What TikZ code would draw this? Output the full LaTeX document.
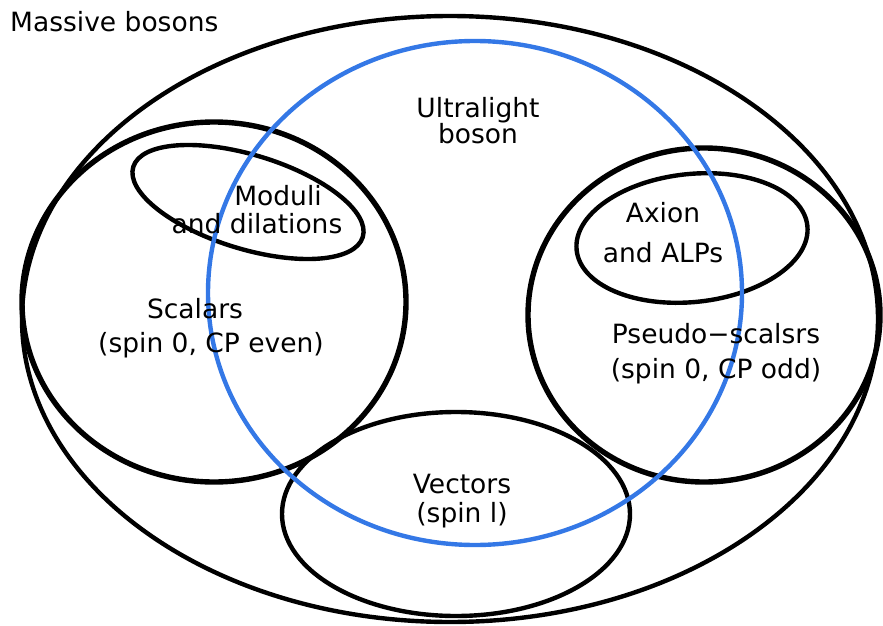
\documentclass[tikz,border=0pt]{standalone}
\usepackage{fontspec}
\setmainfont{DejaVu Sans}
\usepackage{xcolor}
\usepackage{tikz}

\definecolor{ulblue}{RGB}{52,120,230}

\begin{document}
\begin{tikzpicture}[x=1pt, y=-1pt]
        % Styles
        \tikzset{
            setline/.style={draw=black, line width=4.4pt},
            bigset/.style={draw=black, line width=5.4pt},
            ulset/.style={draw=ulblue, line width=4.4pt},
            lbl/.style={inner sep=0pt, anchor=base, align=center, font=\fontsize{26.5}{#1}\selectfont}
        }
        \useasboundingbox (0,0) rectangle (883,626);

        % Sets
        \draw [setline] (450,319) ellipse [x radius=428, y radius=303];
        \draw [bigset] (214,302) ellipse [x radius=192, y radius=180];
        \draw [bigset] (704,315) ellipse [x radius=176, y radius=167];
        \draw [setline, rotate around={-17:(248,202)}] (248,202) ellipse [x radius=120, y radius=47];
        \draw [setline, rotate around={6:(692,238)}] (692,238) ellipse [x radius=116, y radius=64];
        \draw [setline] (456,514) ellipse [x radius=174, y radius=102];

        % Ultralight circle
        \draw [ulset] (475,293) ellipse [x radius=267, y radius=252];

        % Labels (base = last line)
        \node [lbl=28, anchor=base west] (massive) at (10,32) {Massive bosons};
        \node [lbl=26] (ultralight) at (478,143) {Ultralight\\boson};
        \node [lbl=28] (moduli) at (257,233) {\hspace*{42pt}Moduli\\and dilations};
        \node [lbl=34] (scalars) at (211,352) {Scalars\hspace*{32pt}\\(spin 0, CP even)};
        \node [lbl=40] (axion) at (663,262) {Axion\\and ALPs};
        \node [lbl=35] (pseudo) at (716,378) {Pseudo−scalsrs\\(spin 0, CP odd)};
        \node [lbl=29] (vectors) at (462,522) {Vectors\\(spin l)};
    \end{tikzpicture}
\end{document}
